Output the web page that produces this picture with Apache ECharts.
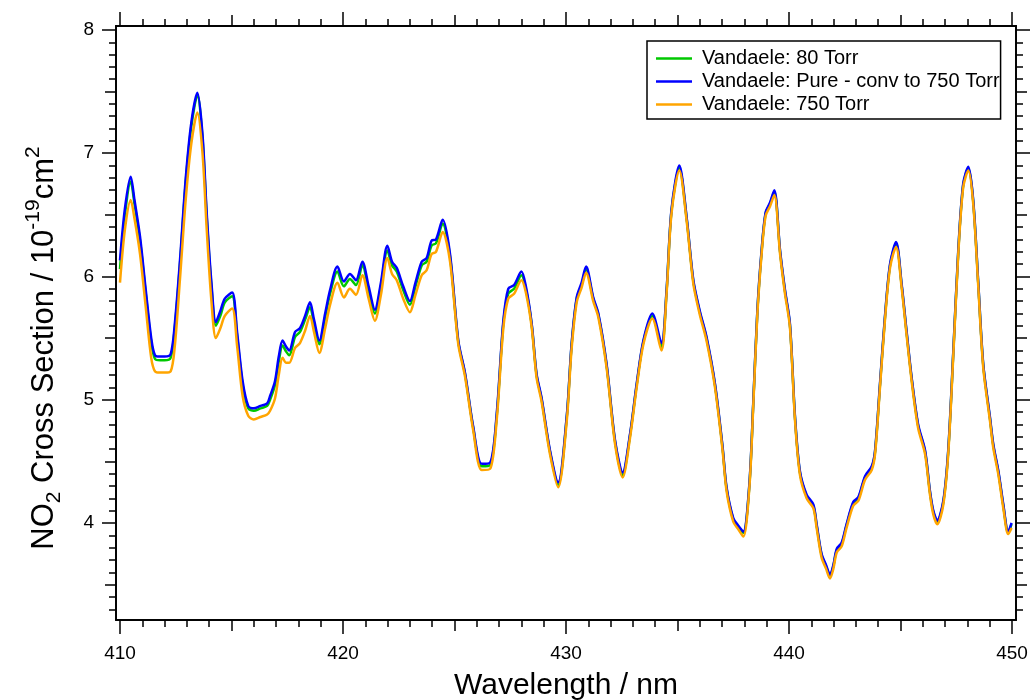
<!DOCTYPE html>
<html>
<head>
<meta charset="utf-8">
<script src="https://cdn.jsdelivr.net/npm/echarts@6/dist/echarts.min.js"></script>
<style>html,body{margin:0;padding:0;background:#fff}#c{width:1031px;height:700px}</style>
</head>
<body>
<div id="c"></div>
<script>
// ---- data ----
const wavelength = [410.00,410.22,410.48,410.65,410.90,411.15,411.40,411.57,411.80,412.00,412.27,412.45,412.69,412.95,413.20,413.47,413.70,413.89,414.10,414.30,414.50,414.70,415.03,415.25,415.50,415.75,416.00,416.30,416.60,416.73,416.95,417.12,417.29,417.45,417.59,417.85,418.07,418.30,418.52,418.70,418.94,419.20,419.42,419.75,420.04,420.31,420.58,420.87,421.15,421.43,421.70,421.99,422.20,422.41,422.70,423.00,423.25,423.53,423.75,423.97,424.17,424.47,424.80,425.17,425.47,425.84,426.22,426.60,426.89,427.19,427.41,427.67,428.00,428.20,428.46,428.68,428.90,429.28,429.65,430.03,430.25,430.48,430.70,430.90,431.22,431.45,431.82,432.20,432.54,432.87,433.17,433.47,433.87,434.28,434.51,434.73,435.08,435.41,435.71,436.00,436.30,436.68,437.02,437.20,437.50,437.72,437.95,438.22,438.40,438.58,438.77,438.95,439.15,439.34,439.60,439.82,440.04,440.27,440.49,440.79,441.09,441.24,441.46,441.66,441.84,441.99,442.14,442.36,442.58,442.88,443.11,443.41,443.71,443.86,444.08,444.30,444.53,444.80,445.05,445.27,445.50,445.79,446.10,446.32,446.47,446.65,446.92,447.14,447.37,447.59,447.81,448.04,448.26,448.49,448.71,449.01,449.16,449.39,449.61,449.83,449.98];

const torr80 = [6.06,6.50,6.77,6.59,6.29,5.87,5.47,5.33,5.32,5.32,5.34,5.57,6.10,6.77,7.22,7.47,7.12,6.48,5.92,5.60,5.68,5.79,5.84,5.52,5.12,4.93,4.91,4.93,4.95,5.00,5.12,5.31,5.44,5.39,5.36,5.51,5.55,5.65,5.75,5.62,5.45,5.67,5.86,6.04,5.92,5.98,5.93,6.09,5.89,5.70,5.92,6.21,6.09,6.04,5.89,5.77,5.92,6.09,6.12,6.25,6.27,6.43,6.16,5.47,5.21,4.77,4.46,4.47,4.86,5.62,5.86,5.90,6.01,5.90,5.61,5.20,5.01,4.58,4.31,4.85,5.44,5.82,5.93,6.06,5.82,5.69,5.28,4.66,4.39,4.71,5.12,5.47,5.68,5.43,5.88,6.53,6.88,6.47,5.96,5.71,5.50,5.12,4.61,4.28,4.03,3.97,3.92,4.30,4.98,5.71,6.20,6.51,6.59,6.69,6.20,5.88,5.61,4.85,4.41,4.22,4.14,3.98,3.74,3.65,3.57,3.65,3.78,3.83,3.98,4.16,4.20,4.37,4.45,4.58,5.12,5.66,6.09,6.27,5.93,5.55,5.17,4.79,4.58,4.25,4.09,4.01,4.17,4.58,5.39,6.20,6.74,6.88,6.61,5.93,5.28,4.85,4.63,4.41,4.14,3.92,3.99];

const pureConv750 = [6.13,6.55,6.81,6.62,6.32,5.90,5.50,5.36,5.35,5.35,5.37,5.60,6.13,6.80,7.25,7.49,7.15,6.51,5.95,5.63,5.72,5.82,5.87,5.55,5.15,4.95,4.93,4.95,4.97,5.03,5.15,5.35,5.48,5.43,5.40,5.55,5.58,5.68,5.79,5.65,5.48,5.70,5.89,6.08,5.96,6.02,5.97,6.12,5.92,5.73,5.95,6.25,6.12,6.07,5.92,5.80,5.95,6.12,6.15,6.29,6.30,6.46,6.18,5.48,5.22,4.78,4.48,4.49,4.88,5.64,5.90,5.93,6.04,5.92,5.62,5.21,5.02,4.59,4.33,4.86,5.45,5.83,5.95,6.08,5.83,5.70,5.29,4.67,4.41,4.72,5.13,5.48,5.70,5.46,5.89,6.54,6.90,6.48,5.97,5.72,5.51,5.13,4.62,4.29,4.04,3.98,3.93,4.31,4.99,5.72,6.21,6.52,6.60,6.70,6.21,5.89,5.62,4.86,4.42,4.23,4.15,3.99,3.75,3.66,3.58,3.66,3.79,3.84,3.99,4.17,4.21,4.38,4.46,4.59,5.13,5.67,6.10,6.28,5.94,5.56,5.18,4.80,4.59,4.26,4.10,4.02,4.18,4.59,5.40,6.21,6.75,6.89,6.62,5.94,5.29,4.86,4.64,4.42,4.15,3.93,4.00];

const torr750 = [5.95,6.38,6.62,6.47,6.18,5.76,5.34,5.23,5.22,5.22,5.23,5.42,5.98,6.63,7.08,7.33,7.00,6.38,5.80,5.50,5.58,5.68,5.74,5.44,5.03,4.87,4.84,4.86,4.88,4.91,5.01,5.20,5.34,5.30,5.30,5.42,5.46,5.56,5.68,5.55,5.38,5.58,5.77,5.95,5.83,5.90,5.85,6.01,5.82,5.64,5.85,6.15,6.02,5.97,5.82,5.71,5.85,6.01,6.05,6.18,6.20,6.36,6.12,5.45,5.19,4.75,4.43,4.44,4.83,5.58,5.82,5.86,5.97,5.87,5.59,5.18,4.99,4.56,4.29,4.82,5.41,5.79,5.91,6.03,5.80,5.67,5.26,4.64,4.37,4.69,5.10,5.45,5.66,5.40,5.86,6.51,6.86,6.45,5.94,5.69,5.48,5.10,4.59,4.26,4.01,3.95,3.89,4.28,4.96,5.69,6.18,6.49,6.57,6.66,6.18,5.86,5.59,4.83,4.39,4.20,4.12,3.96,3.72,3.63,3.55,3.63,3.76,3.81,3.96,4.14,4.18,4.35,4.43,4.56,5.10,5.64,6.07,6.24,5.91,5.53,5.15,4.77,4.56,4.23,4.07,3.99,4.15,4.56,5.37,6.18,6.72,6.86,6.59,5.91,5.26,4.83,4.61,4.39,4.12,3.91,3.96];

const seriesNames = ['Vandaele: 80 Torr', 'Vandaele: Pure - conv to 750 Torr', 'Vandaele: 750 Torr'];
const xTickLabels = [410, 420, 430, 440, 450];
const yTickLabels = [4, 5, 6, 7, 8];

// ---- chart ----
const FONT = 'Liberation Sans, Arial, sans-serif';
const X_MIN = 409.821, X_MAX = 450.179;
const Y_MIN = 3.213, Y_MAX = 8.032;
const AXW = 1.5;

function range(a, b, step) { const r = []; for (let v = a; v <= b + 1e-9; v += step) r.push(Math.round(v * 1000) / 1000); return r; }
const xMedium = range(415, 445, 10);
const xMinor = range(410, 450, 1).filter(v => v % 5 !== 0);
const yMedium = range(3.5, 7.5, 1);
const yMinor = range(3.3, 8.0, 0.1).filter(v => Math.abs(v * 2 - Math.round(v * 2)) > 1e-6);

function ax(pos, mn, mx, ticks, len, opts) {
  return Object.assign({
    type: 'value', position: pos, min: mn, max: mx,
    axisLine: { show: true, onZero: false, lineStyle: { color: '#000', width: AXW } },
    axisTick: { show: true, inside: false, length: len, customValues: ticks, lineStyle: { color: '#000', width: AXW } },
    axisLabel: { show: false },
    splitLine: { show: false }
  }, opts || {});
}

const xAxes = [
  ax('bottom', X_MIN, X_MAX, xTickLabels, 14, {
    axisLabel: { show: true, customValues: xTickLabels, fontSize: 19, fontFamily: FONT, color: '#000', margin: 24 },
    name: 'Wavelength / nm', nameLocation: 'middle', nameGap: 51,
    nameTextStyle: { fontSize: 30, fontFamily: FONT, color: '#000' }
  }),
  ax('bottom', X_MIN, X_MAX, xMedium, 11),
  ax('bottom', X_MIN, X_MAX, xMinor, 7),
  ax('top', X_MIN, X_MAX, xTickLabels, 14),
  ax('top', X_MIN, X_MAX, xMedium, 11),
  ax('top', X_MIN, X_MAX, xMinor, 7)
];
const yAxes = [
  ax('left', Y_MIN, Y_MAX, yTickLabels, 14, {
    axisLabel: { show: true, customValues: yTickLabels, fontSize: 19, fontFamily: FONT, color: '#000', margin: 22 },
    name: '{t|NO}{sub|2}{t| Cross Section / 10}{sup|-19}{t|cm}{sup|2}',
    nameLocation: 'middle', nameGap: 51, nameRotate: 90,
    nameTextStyle: {
      fontFamily: FONT, color: '#000', padding: [0, 50, 0, 0],
      rich: {
        t: { fontSize: 31, fontFamily: FONT, color: '#000', lineHeight: 42 },
        sub: { fontSize: 21, fontFamily: FONT, color: '#000', lineHeight: 21, verticalAlign: 'bottom' },
        sup: { fontSize: 21, fontFamily: FONT, color: '#000', lineHeight: 21, verticalAlign: 'top' }
      }
    }
  }),
  ax('left', Y_MIN, Y_MAX, yMedium, 11),
  ax('left', Y_MIN, Y_MAX, yMinor, 7),
  ax('right', Y_MIN, Y_MAX, yTickLabels, 14),
  ax('right', Y_MIN, Y_MAX, yMedium, 11),
  ax('right', Y_MIN, Y_MAX, yMinor, 7)
];

function mk(name, vals, color) {
  return {
    name: name, type: 'line', xAxisIndex: 0, yAxisIndex: 0,
    data: wavelength.map((w, i) => [w, vals[i]]),
    showSymbol: false, symbol: 'none', smooth: 0.3,
    lineStyle: { color: color, width: 2.5 }, itemStyle: { color: color },
    emphasis: { disabled: true }
  };
}

const chart = echarts.init(document.getElementById('c'), null, { renderer: 'canvas' });
chart.setOption({
  animation: false,
  backgroundColor: '#fff',
  grid: { left: 116, right: 15, top: 26, bottom: 80, containLabel: false, outerBoundsMode: 'none' },
  xAxis: xAxes,
  yAxis: yAxes,
  legend: {
    data: seriesNames,
    orient: 'vertical', left: 647, top: 41,
    padding: [6, 1, 3, 9], itemGap: 0,
    itemWidth: 36, itemHeight: 2.5, icon: 'rect',
    borderColor: '#000', borderWidth: 1.5, backgroundColor: '#fff',
    textStyle: { fontSize: 20, fontFamily: FONT, color: '#000', lineHeight: 23, padding: [0, 0, 0, 5] }
  },
  series: [
    mk(seriesNames[0], torr80, '#00c800'),
    mk(seriesNames[1], pureConv750, '#0000ff'),
    mk(seriesNames[2], torr750, '#ffa500')
  ]
});
</script>
</body>
</html>
